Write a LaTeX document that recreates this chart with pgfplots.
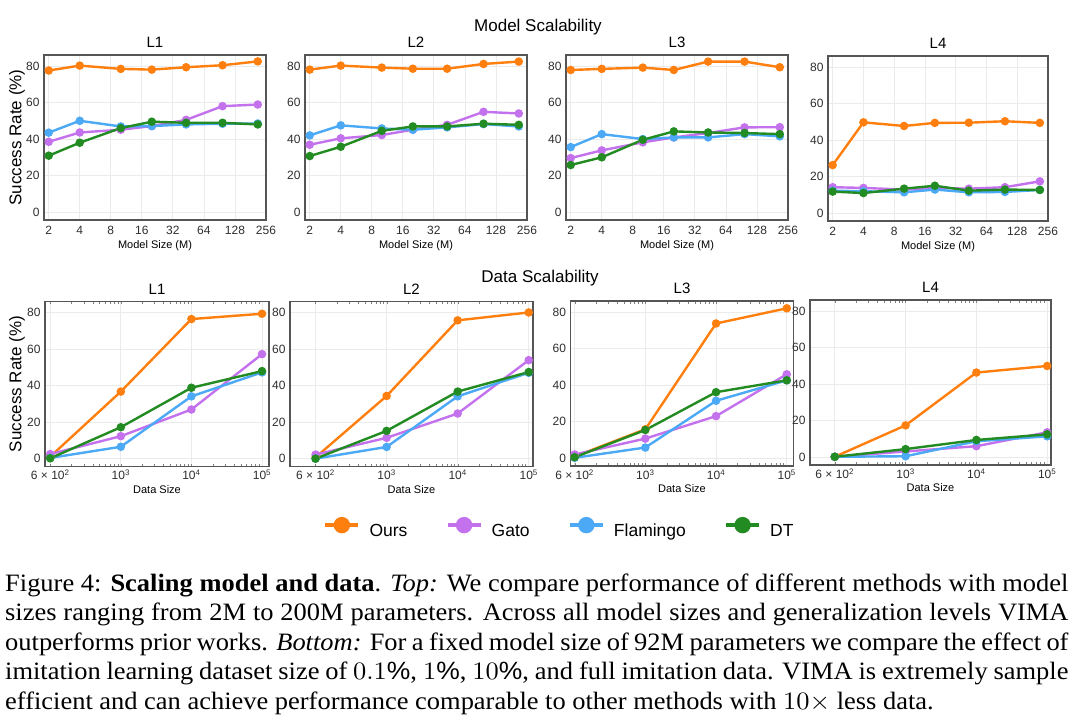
\documentclass[border=0pt]{standalone}
\usepackage{graphicx}
\usepackage{pgfplots}
\usepackage{pgfplotstable}
\pgfplotsset{compat=1.18}
\usepackage{fontspec}
\setmainfont{Liberation Sans}
\newfontfamily\capfont{Liberation Serif}
\definecolor{cOurs}{HTML}{FF7F0E}
\definecolor{cGato}{HTML}{C471ED}
\definecolor{cFlam}{HTML}{4BA9F5}
\definecolor{cDT}{HTML}{228B22}
\definecolor{framec}{HTML}{555555}
\definecolor{gridc}{HTML}{EBEBEB}

% Model scalability (x = model size in M)
\pgfplotstableread{
x ours gato flam dt
2   77.5 38.5 43.5 30.9
4   80.2 43.6 50.0 38.0
10  78.4 45.1 46.9 46.0
20  78.0 47.1 47.1 49.5
43  79.3 50.5 48.0 48.9
97  80.4 58.0 48.4 48.9
213 82.5 58.9 48.5 48.0
}\mOne
\pgfplotstableread{
x ours gato flam dt
2   78.0 36.9 42.0 30.7
4   80.2 40.4 47.5 35.8
10  79.1 42.2 45.8 44.5
20  78.5 45.1 45.1 46.9
43  78.5 47.8 46.4 46.9
97  81.1 54.9 48.2 48.4
213 82.4 54.0 46.9 47.8
}\mTwo
\pgfplotstableread{
x ours gato flam dt
2   77.8 29.6 35.6 25.8
4   78.4 33.8 42.7 30.0
10  79.1 38.2 40.0 39.6
20  77.8 40.9 40.9 44.2
43  82.4 43.3 40.9 43.6
97  82.4 46.4 42.7 43.3
213 79.3 46.5 41.5 42.7
}\mThree
\pgfplotstableread{
x ours gato flam dt
2   26.3 14.2 12.3 11.8
4   49.7 13.8 12.0 11.0
10  47.7 12.9 11.4 13.4
20  49.4 13.8 12.9 15.0
43  49.5 13.4 11.4 12.3
97  50.3 14.2 11.6 12.9
213 49.4 17.4 12.7 12.7
}\mFour
% Data scalability
\pgfplotstableread{
x ours gato flam dt
100    1.1  2.5  0.4  0.2
1000   36.7 12.3 6.5  17.2
10000  76.4 26.9 34.1 38.8
100000 79.3 57.2 47.2 47.9
}\dOne
\pgfplotstableread{
x ours gato flam dt
100    0.7  2.2  0.0  0.0
1000   34.3 11.4 6.4  15.2
10000  75.7 24.7 34.1 36.7
100000 80.0 53.9 47.0 47.4
}\dTwo
\pgfplotstableread{
x ours gato flam dt
100    0.9  2.0  0.2  0.5
1000   15.8 10.7 5.8  15.4
10000  73.7 23.0 31.4 36.1
100000 82.0 45.9 42.6 42.6
}\dThree
\pgfplotstableread{
x ours gato flam dt
100    0.2  0.2  0.2  0.2
1000   17.4 3.1  0.5  4.4
10000  46.3 6.0  8.7  9.4
100000 49.9 13.6 11.4 12.5
}\dFour

\pgfplotsset{/pgf/number format/assume math mode=true}
\pgfplotsset{every axis/.append style={scale only axis, height=165pt, ymin=-4.3, ymax=86,
    ytick={0,20,40,60,80}, clip=false,
    grid=major, grid style={gridc, line width=0.8pt},
    axis line style={framec, line width=1.1pt},
    major tick length=0pt,
    tick label style={font=\fontsize{12}{14}\selectfont, text=black!82},
    title style={at={(0.5,1)}, anchor=base, yshift=1.5pt, font=\fontsize{15}{17}\selectfont},
    yticklabel style={xshift=-1pt},
    anchor=north west}}
\pgfplotsset{every axis plot/.append style={line width=2.4pt, mark=*, mark size=3pt}}
\pgfplotsset{every axis y label/.style={at={(axis description cs:-0.122,0.5)}, rotate=90, anchor=center, font=\fontsize{17}{19}\selectfont}}
\pgfplotsset{every axis x label/.style={at={(axis description cs:0.5,0)}, anchor=base, yshift=-28pt, font=\fontsize{11}{13}\selectfont}}

\newcommand{\four}[1]{%
  \addplot[cOurs] table[x=x,y=ours]{#1};
  \addplot[cGato] table[x=x,y=gato]{#1};
  \addplot[cFlam] table[x=x,y=flam]{#1};
  \addplot[cDT] table[x=x,y=dt]{#1};
}

\begin{document}
\begin{tikzpicture}
\useasboundingbox (0,0) rectangle (1080pt,-723pt);
\node[font=\fontsize{17}{20}\selectfont, anchor=base] at (538pt,-31.7pt) {Model Scalability};
\node[font=\fontsize{17}{20}\selectfont, anchor=base] at (540pt,-282.5pt) {Data Scalability};

% top row
\begin{axis}[xmode=log, log basis x=2, xmin=1.8, xmax=256,
  xtick={2,4,8,16,32,64,128,256}, xticklabels={2,4,8,16,32,64,128,256},
  xticklabel style={yshift=-3pt}, xlabel={Model Size (M)},
  at={(44pt,-55pt)}, width=222pt, title={L1}, ylabel={Success Rate (\%)}]
\four{\mOne}
\end{axis}
\begin{axis}[xmode=log, log basis x=2, xmin=1.8, xmax=256,
  xtick={2,4,8,16,32,64,128,256}, xticklabels={2,4,8,16,32,64,128,256},
  xticklabel style={yshift=-3pt}, xlabel={Model Size (M)},
  at={(305pt,-55pt)}, width=222pt, title={L2}]
\four{\mTwo}
\end{axis}
\begin{axis}[xmode=log, log basis x=2, xmin=1.8, xmax=256,
  xtick={2,4,8,16,32,64,128,256}, xticklabels={2,4,8,16,32,64,128,256},
  xticklabel style={yshift=-3pt}, xlabel={Model Size (M)},
  at={(566pt,-55pt)}, width=222pt, title={L3}]
\four{\mThree}
\end{axis}
\begin{axis}[xmode=log, log basis x=2, xmin=1.8, xmax=256,
  xtick={2,4,8,16,32,64,128,256}, xticklabels={2,4,8,16,32,64,128,256},
  xticklabel style={yshift=-3pt}, xlabel={Model Size (M)},
  at={(828pt,-56pt)}, width=220pt, title={L4}]
\four{\mFour}
\end{axis}

% bottom row
\begin{axis}[xmode=log, xtick={100,1000,10000,100000},
  xticklabels={6 × 10\textsuperscript{2}, 10\textsuperscript{3}, 10\textsuperscript{4}, 10\textsuperscript{5}},
  xlabel={Data Size}, xlabel style={yshift=1.3pt},
  at={(45pt,-301.5pt)}, width=224pt, xmin=84.3, xmax=125600,
  title={L1}, ylabel={Success Rate (\%)},
  ylabel style={at={(axis description cs:-0.125,0.5)}},
  legend columns=4,
  legend style={at={(axis description cs:1.2411,-0.37)}, anchor=west, draw=none, fill=none, inner sep=0pt,
    font=\fontsize{17.5}{20}\selectfont,
    nodes={inner sep=0pt},
    /tikz/every odd column/.append style={column sep=9pt},
    /tikz/every even column/.append style={column sep=38pt}},
  legend cell align=left]
\addlegendimage{legend image code/.code={\draw[cOurs, line width=4.3pt] (0pt,6pt)--(33pt,6pt); \fill[cOurs] (16.5pt,6pt) circle (7pt);}}
\addlegendentry{Ours}
\addlegendimage{legend image code/.code={\draw[cGato, line width=4.3pt] (0pt,6pt)--(33pt,6pt); \fill[cGato] (16.5pt,6pt) circle (7pt);}}
\addlegendentry{Gato}
\addlegendimage{legend image code/.code={\draw[cFlam, line width=4.3pt] (0pt,6pt)--(33pt,6pt); \fill[cFlam] (16.5pt,6pt) circle (7pt);}}
\addlegendentry{Flamingo}
\addlegendimage{legend image code/.code={\draw[cDT, line width=4.3pt] (0pt,6pt)--(33pt,6pt); \fill[cDT] (16.5pt,6pt) circle (7pt);}}
\addlegendentry{DT}
\addplot[cOurs, forget plot] table[x=x,y=ours]{\dOne};
\addplot[cGato, forget plot] table[x=x,y=gato]{\dOne};
\addplot[cFlam, forget plot] table[x=x,y=flam]{\dOne};
\addplot[cDT, forget plot] table[x=x,y=dt]{\dOne};
\end{axis}
\begin{axis}[xmode=log, xtick={100,1000,10000,100000},
  xticklabels={6 × 10\textsuperscript{2}, 10\textsuperscript{3}, 10\textsuperscript{4}, 10\textsuperscript{5}},
  xlabel={Data Size}, xlabel style={yshift=1.3pt},
  at={(290pt,-301.5pt)}, width=243pt, xmin=43.7, xmax=114800, title={L2}]
\four{\dTwo}
\end{axis}
\begin{axis}[xmode=log, xtick={100,1000,10000,100000},
  xticklabels={6 × 10\textsuperscript{2}, 10\textsuperscript{3}, 10\textsuperscript{4}, 10\textsuperscript{5}},
  xlabel={Data Size}, xlabel style={yshift=1.3pt},
  at={(570.5pt,-301pt)}, width=223pt, xmin=87.5, xmax=124500, title={L3}]
\four{\dThree}
\end{axis}
\begin{axis}[xmode=log, xtick={100,1000,10000,100000},
  xticklabels={6 × 10\textsuperscript{2}, 10\textsuperscript{3}, 10\textsuperscript{4}, 10\textsuperscript{5}},
  xlabel={Data Size}, xlabel style={yshift=1.3pt},
  at={(810pt,-300pt)}, width=241pt, xmin=44.7, xmax=113200, title={L4}]
\four{\dFour}
\end{axis}

% caption
\node[anchor=base west, inner sep=0pt] at (5pt,-591pt) {\scalebox{2.645}[2.5]{\begin{minipage}[t]{402pt}\capfont\fontsize{10}{11.8}\selectfont
Figure 4: \textbf{Scaling model and data}. \textit{Top:} We compare performance of different methods with model\linebreak
sizes ranging from 2M to 200M parameters. Across all model sizes and generalization levels VIMA\linebreak
outperforms prior works. \textit{Bottom:} For a fixed model size of 92M parameters we compare the effect of\linebreak
imitation learning dataset size of $0.1\%$, $1\%$, $10\%$, and full imitation data. VIMA is extremely sample\linebreak
efficient and can achieve performance comparable to other methods with $10\times$ less data.
\end{minipage}}};
\end{tikzpicture}
\end{document}
